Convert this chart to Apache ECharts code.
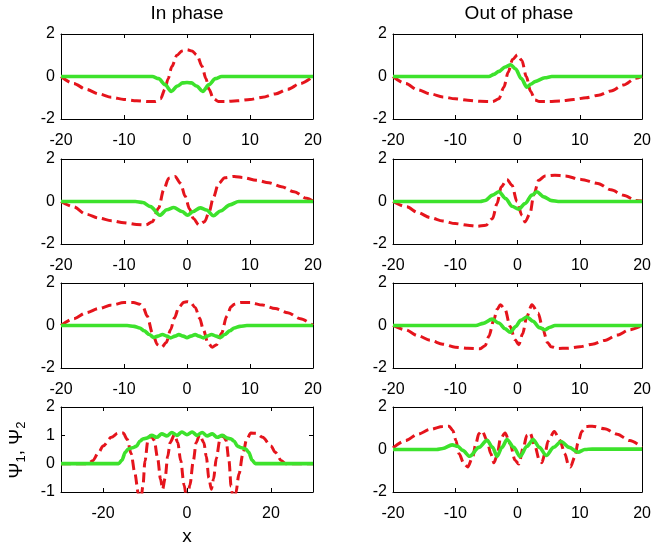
<!DOCTYPE html>
<html>
<head>
<meta charset="utf-8">
<script src="https://cdn.jsdelivr.net/npm/echarts@6/dist/echarts.min.js"></script>
<style>
  html, body { margin: 0; padding: 0; background: #fff; }
  #chart { width: 654px; height: 550px; }
</style>
</head>
<body>
<div id="chart"></div>
<script>
// Wave profiles psi_1 (dashed red) and psi_2 (solid green), as [x, psi] pairs.
const inPhase1Red = [[-20,0],[-18,-0.33],[-16,-0.6],[-14,-0.82],[-12,-0.98],[-10,-1.08],[-8,-1.14],[-6,-1.18],[-5,-1.18],[-4.2,-1.05],[-3.5,-0.6],[-3,-0.1],[-2.4,0.47],[-1.6,1.0],[-0.8,1.2],[0,1.26],[0.8,1.2],[1.6,1.0],[2.4,0.47],[3,-0.1],[3.5,-0.6],[4.2,-1.05],[5,-1.18],[6,-1.18],[8,-1.14],[10,-1.08],[12,-0.98],[14,-0.82],[16,-0.6],[18,-0.33],[20,0]];
const inPhase1Green = [[-20,0],[-5.5,0],[-4.5,-0.1],[-3.5,-0.38],[-2.5,-0.7],[-1.5,-0.45],[-0.7,-0.3],[0,-0.28],[0.7,-0.3],[1.5,-0.45],[2.5,-0.7],[3.5,-0.38],[4.5,-0.1],[5.5,0],[20,0]];

const outPhase1Red = [[-20,0],[-18,-0.33],[-16,-0.63],[-14,-0.82],[-12,-0.96],[-10,-1.05],[-8,-1.12],[-6,-1.17],[-4,-1.18],[-3,-1.05],[-2.2,-0.5],[-1.5,0.2],[-0.8,0.8],[0,1.02],[0.7,0.75],[1.4,0.0],[2.1,-0.7],[2.8,-1.1],[3.5,-1.18],[5,-1.18],[7,-1.15],[9,-1.08],[11,-1.0],[13,-0.88],[15,-0.68],[17,-0.4],[19,-0.08],[20,0.02]];
const outPhase1Green = [[-20,0],[-4.6,0],[-3.8,0.1],[-3,0.24],[-2,0.45],[-1.1,0.55],[-0.3,0.35],[0.6,-0.1],[1.5,-0.5],[2.2,-0.35],[2.8,-0.24],[4.4,-0.06],[5.5,0],[20,0]];

const inPhase2Red = [[-20,0],[-18,-0.25],[-16,-0.6],[-14,-0.78],[-12,-0.9],[-10,-1.0],[-8,-1.08],[-6.5,-1.1],[-5.5,-0.95],[-4.5,-0.3],[-3.7,0.55],[-2.9,1.1],[-1.9,1.18],[-1,0.85],[-0.3,0.25],[0.4,-0.35],[1,-0.8],[1.9,-1.1],[2.8,-0.95],[3.5,-0.5],[4.2,0.2],[5,0.85],[6,1.12],[7.5,1.18],[9,1.12],[11,1.0],[13,0.88],[15,0.7],[17,0.46],[19,0.15],[20,0.02]];
const inPhase2Green = [[-20,0],[-8.2,0],[-7,-0.05],[-5.8,-0.24],[-4.3,-0.65],[-3.2,-0.39],[-2.1,-0.28],[-0.8,-0.47],[0.1,-0.65],[0.9,-0.48],[2.1,-0.3],[3.1,-0.4],[4.2,-0.67],[5.3,-0.45],[6.8,-0.16],[8.2,0],[20,0]];

const outPhase2Red = [[-20,0],[-17.8,-0.25],[-16,-0.52],[-14,-0.76],[-12,-0.92],[-10,-1.04],[-8,-1.12],[-6.5,-1.17],[-5.1,-1.12],[-4,-0.8],[-3.3,-0.1],[-2.6,0.7],[-1.7,1.04],[-0.9,0.77],[-0.1,0],[0.7,-0.65],[1.2,-0.96],[2,-0.57],[2.6,0.3],[3.4,1.0],[4.4,1.2],[6,1.24],[7.6,1.2],[10.2,1.04],[12.9,0.85],[15,0.55],[17,0.3],[19,0.05],[20,0.02]];
const outPhase2Green = [[-20,0],[-6,0],[-5.2,0.05],[-4,0.3],[-3,0.46],[-1.9,0.14],[-0.9,-0.22],[0.2,-0.36],[1.2,-0.1],[2.3,0.3],[3.1,0.46],[4.2,0.22],[5.5,0.04],[6.5,0],[20,0]];

const inPhase3Red = [[-20,0],[-18,0.32],[-16,0.6],[-14,0.8],[-12,0.96],[-10,1.08],[-8.5,1.08],[-7.5,1.0],[-7,0.88],[-6.3,0.43],[-5.5,-0.35],[-4.7,-0.9],[-4,-1.02],[-3.3,-0.8],[-2.6,-0.2],[-2,0.35],[-1.3,0.85],[-0.5,1.1],[0,1.12],[0.5,1.1],[1.3,0.85],[2,0.35],[2.6,-0.2],[3.3,-0.8],[4,-1.02],[4.7,-0.9],[5.5,-0.35],[6.3,0.43],[7,0.88],[7.5,1.0],[8.5,1.08],[10,1.08],[12,0.96],[14,0.8],[16,0.6],[18,0.32],[20,0]];
const inPhase3Green = [[-20,0],[-9.5,0],[-8.4,-0.04],[-7.5,-0.12],[-6.8,-0.25],[-6,-0.42],[-5.3,-0.56],[-4.6,-0.5],[-3.9,-0.42],[-3.2,-0.5],[-2.6,-0.58],[-1.9,-0.5],[-1.3,-0.43],[-0.6,-0.5],[0,-0.57],[0.6,-0.5],[1.3,-0.43],[1.9,-0.5],[2.6,-0.58],[3.2,-0.5],[3.9,-0.42],[4.6,-0.5],[5.3,-0.56],[6,-0.42],[6.8,-0.25],[7.5,-0.12],[8.4,-0.04],[9.5,0],[20,0]];

const outPhase3Red = [[-20,0],[-18,-0.2],[-16,-0.48],[-14,-0.7],[-12,-0.88],[-10,-1.02],[-8,-1.07],[-6,-1.09],[-5.2,-0.95],[-4.6,-0.5],[-3.8,0.27],[-3.3,0.75],[-2.75,0.98],[-2,0.75],[-1.2,-0.04],[-0.4,-0.67],[0.2,-0.9],[0.8,-0.4],[1.5,0.43],[2.3,0.98],[3.3,0.59],[4.1,-0.2],[4.8,-0.8],[5.4,-1.0],[6.5,-1.08],[8,-1.07],[10,-1.0],[12,-0.88],[14,-0.7],[16,-0.45],[18,-0.2],[20,0]];
const outPhase3Green = [[-20,0],[-6.7,0],[-5.5,0.1],[-4.1,0.3],[-3,0.12],[-2,-0.15],[-1.2,-0.32],[-0.3,-0.05],[0.5,0.25],[1.5,0.4],[2.5,0.2],[3.5,-0.1],[4.4,-0.2],[5.2,-0.08],[6,0],[20,0]];

const inPhase4Red = [[-30,0],[-23.5,0],[-22.5,0.1],[-21,0.4],[-20,0.62],[-18,0.93],[-16.5,1.07],[-15.2,1.08],[-14.2,0.85],[-13.3,0.35],[-12.4,-0.35],[-11.6,-1.05],[-11,-1.3],[-10.5,-0.8],[-10,0.1],[-9.3,0.82],[-8.6,1.0],[-7.8,0.82],[-7,0.2],[-6.3,-0.55],[-5.8,-0.9],[-5.2,-0.5],[-4.6,0.25],[-4,0.75],[-3,1.02],[-2.2,0.75],[-1.5,0.1],[-0.7,-0.75],[0,-1.3],[0.7,-0.75],[1.5,0.1],[2.2,0.75],[3,1.02],[4,0.75],[4.6,0.25],[5.2,-0.5],[5.8,-0.9],[6.3,-0.55],[7,0.2],[7.8,0.82],[8.6,1.0],[9.3,0.82],[10,0.1],[10.5,-0.8],[11,-1.3],[11.6,-1.05],[12.4,-0.35],[13.3,0.35],[14.2,0.85],[15.2,1.08],[16.5,1.07],[18,0.93],[20,0.62],[21,0.4],[22.5,0.1],[23.5,0],[30,0]];
const inPhase4Green = [[-30,0],[-16.3,0],[-15.5,0.12],[-14.7,0.4],[-14,0.52],[-13,0.56],[-12,0.62],[-11.2,0.8],[-10.4,0.88],[-9.6,0.9],[-8.4,1.0],[-7.2,0.93],[-6,1.05],[-4.8,0.98],[-3.6,1.1],[-2.4,1.0],[-1.2,1.12],[0,1.02],[1.2,1.12],[2.4,1.0],[3.6,1.1],[4.8,0.98],[6,1.05],[7.2,0.93],[8.4,1.0],[9.6,0.9],[10.4,0.88],[11.2,0.8],[12,0.62],[13,0.56],[14,0.52],[14.7,0.4],[15.5,0.12],[16.3,0],[30,0]];

const outPhase4Red = [[-20,0.08],[-18,0.42],[-16,0.72],[-14,0.95],[-12,1.08],[-11,1.1],[-10.4,0.9],[-9.9,0.43],[-9.4,-0.2],[-8.6,-0.67],[-8,-0.82],[-7.2,-0.35],[-6.7,0.27],[-6.2,0.75],[-5.7,0.88],[-4.9,0.43],[-4.3,-0.2],[-3.8,-0.62],[-3.3,-0.3],[-2.75,0.5],[-2,0.78],[-1.2,0.27],[-0.4,-0.5],[0.2,-0.68],[0.95,0.12],[1.5,0.67],[2,0.78],[2.8,0.15],[3.5,-0.5],[3.9,-0.62],[4.4,-0.2],[4.9,0.4],[5.9,0.85],[6.8,0.43],[7.6,-0.2],[8.2,-0.75],[8.5,-0.82],[9.2,-0.35],[9.7,0.3],[10.3,0.85],[11,1.08],[12,1.1],[14,0.98],[16,0.72],[18,0.42],[20,0.1]];
const outPhase4Green = [[-20,0],[-13,0],[-12,0.05],[-10.5,0.22],[-9.6,0.15],[-8.8,-0.04],[-7.7,-0.32],[-6.2,0.1],[-4.9,0.43],[-4,0.1],[-3.3,-0.33],[-2.5,0.1],[-1.7,0.47],[-0.6,0.1],[0.4,-0.33],[1.5,0.15],[2.5,0.47],[3.5,0.1],[4.6,-0.28],[5.8,0.1],[7,0.38],[8.3,0.1],[9.7,-0.13],[10.8,0],[12,0.02],[20,0.02]];

// Tick values
const xTicksNarrow = [-20, -10, 0, 10, 20];
const xTicksWide = [-20, 0, 20];
const yTicksStd = [-2, 0, 2];
const yTicksLast = [-1, 0, 1, 2];

const columnTitles = ['In phase', 'Out of phase'];
const xName = 'x';

const FONT = '"Liberation Sans", Arial, Helvetica, sans-serif';
const RED = '#e5141c';
const GREEN = '#3de22c';

const colLeft = [61, 393];
const rowTop = [34, 159, 283, 407];
const W = 252, H = 85;

const panels = [
  { col: 0, row: 0, red: inPhase1Red,  green: inPhase1Green,  x: [-20, 20, 10, xTicksNarrow], y: [-2, 2, 2, yTicksStd] },
  { col: 1, row: 0, red: outPhase1Red, green: outPhase1Green, x: [-20, 20, 10, xTicksNarrow], y: [-2, 2, 2, yTicksStd] },
  { col: 0, row: 1, red: inPhase2Red,  green: inPhase2Green,  x: [-20, 20, 10, xTicksNarrow], y: [-2, 2, 2, yTicksStd] },
  { col: 1, row: 1, red: outPhase2Red, green: outPhase2Green, x: [-20, 20, 10, xTicksNarrow], y: [-2, 2, 2, yTicksStd] },
  { col: 0, row: 2, red: inPhase3Red,  green: inPhase3Green,  x: [-20, 20, 10, xTicksNarrow], y: [-2, 2, 2, yTicksStd] },
  { col: 1, row: 2, red: outPhase3Red, green: outPhase3Green, x: [-20, 20, 10, xTicksNarrow], y: [-2, 2, 2, yTicksStd] },
  { col: 0, row: 3, red: inPhase4Red,  green: inPhase4Green,  x: [-30, 30, 10, xTicksWide],   y: [-1, 2, 1, yTicksLast] },
  { col: 1, row: 3, red: outPhase4Red, green: outPhase4Green, x: [-20, 20, 10, xTicksNarrow], y: [-2, 2, 2, yTicksStd] }
];

const grids = [], xAxes = [], yAxes = [], series = [];
const axisLine = { show: true, onZero: false, lineStyle: { color: '#000', width: 1 } };
const labelStyle = { color: '#000', fontSize: 16, fontFamily: FONT };

panels.forEach((p, i) => {
  grids.push({ left: colLeft[p.col], top: rowTop[p.row], width: W, height: H });
  const [xMin, xMax, xStep, xTicks] = p.x;
  const [yMin, yMax, yStep, yTicks] = p.y;
  const tickX = { show: true, inside: true, length: 4, lineStyle: { color: '#000' }, customValues: xTicks };
  const tickY = { show: true, inside: true, length: 4, lineStyle: { color: '#000' }, customValues: yTicks };
  const xBase = { type: 'value', gridIndex: i, min: xMin, max: xMax, interval: xStep,
                  splitLine: { show: false }, axisLine, axisTick: tickX };
  const yBase = { type: 'value', gridIndex: i, min: yMin, max: yMax, interval: yStep,
                  splitLine: { show: false }, axisLine, axisTick: tickY };
  xAxes.push(Object.assign({}, xBase, { position: 'bottom',
    axisLabel: Object.assign({ margin: 14, customValues: xTicks }, labelStyle) }));
  xAxes.push(Object.assign({}, xBase, { position: 'top', axisLabel: { show: false } }));
  yAxes.push(Object.assign({}, yBase, { position: 'left',
    axisLabel: Object.assign({ margin: 6, customValues: yTicks }, labelStyle) }));
  yAxes.push(Object.assign({}, yBase, { position: 'right', axisLabel: { show: false } }));

  const common = { type: 'line', xAxisIndex: 2 * i, yAxisIndex: 2 * i, showSymbol: false,
                   smooth: 0.3, smoothMonotone: 'x', clip: true, silent: true };
  series.push(Object.assign({}, common, { data: p.red, z: 2,
    lineStyle: { color: RED, width: 3, type: [10, 5], cap: 'butt' } }));
  series.push(Object.assign({}, common, { data: p.green, z: 3,
    lineStyle: { color: GREEN, width: 3.6, type: 'solid' } }));
});

const graphic = [
  { type: 'text', x: 187, y: 14, style: { text: columnTitles[0], font: '19px ' + FONT, fill: '#000', align: 'center', verticalAlign: 'middle' } },
  { type: 'text', x: 519, y: 14, style: { text: columnTitles[1], font: '19px ' + FONT, fill: '#000', align: 'center', verticalAlign: 'middle' } },
  { type: 'text', x: 187, y: 537, style: { text: xName, font: '19px ' + FONT, fill: '#000', align: 'center', verticalAlign: 'middle' } },
  { type: 'text', x: 17, y: 450, rotation: Math.PI / 2,
    style: {
      text: '{a|Ψ}{s|1}{a|, Ψ}{s|2}',
      align: 'center', verticalAlign: 'middle', fill: '#000',
      rich: {
        a: { fontSize: 19, fontFamily: FONT, fill: '#000', lineHeight: 22 },
        s: { fontSize: 13, fontFamily: FONT, fill: '#000', verticalAlign: 'bottom', lineHeight: 22, padding: [8, 0, 0, 0] }
      }
    } }
];

const chart = echarts.init(document.getElementById('chart'), null, { renderer: 'canvas' });
chart.setOption({
  backgroundColor: '#fff',
  animation: false,
  grid: grids,
  xAxis: xAxes,
  yAxis: yAxes,
  series,
  graphic
});
</script>
</body>
</html>
